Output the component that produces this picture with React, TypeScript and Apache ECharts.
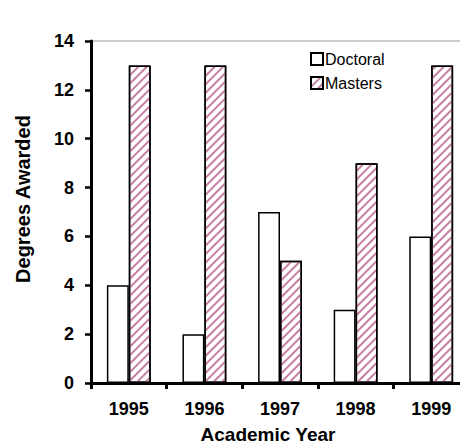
import React, { useEffect, useRef } from "react";
import * as echarts from "echarts";

const categories = ["1995", "1996", "1997", "1998", "1999"];
const doctoral = [4, 2, 7, 3, 6];
const masters = [13, 13, 5, 9, 13];
const yTicks = { min: 0, max: 14, interval: 2 };
const seriesNames = ["Doctoral", "Masters"];

const FONT = "Arial, 'Liberation Sans', sans-serif";

export default function App() {
  const ref = useRef<HTMLDivElement>(null);
  useEffect(() => {
    if (!ref.current) return;
    const chart = echarts.init(ref.current, null, { renderer: "svg" });
    chart.setOption({
      animation: false,
      backgroundColor: "#fff",
      textStyle: { fontFamily: FONT },
      grid: {
        left: 91,
        top: 41,
        right: -9,
        bottom: 62,
        outerBoundsMode: "none",
        containLabel: false,
        show: true,
        borderColor: "#999",
        borderWidth: 1,
        backgroundColor: "transparent",
      },
      legend: {
        orient: "vertical",
        left: 305,
        top: 46,
        itemWidth: 12,
        itemHeight: 12,
        itemGap: 8,
        icon: "rect",
        data: seriesNames,
        textStyle: { fontFamily: FONT, fontSize: 16, color: "#000", padding: [0, 0, 0, -3] },
      },
      xAxis: {
        type: "category",
        data: categories,
        name: "Academic Year",
        nameLocation: "middle",
        nameGap: 42,
        nameTextStyle: { fontFamily: FONT, fontSize: 19, fontWeight: "bold", color: "#000", padding: [0, 24, 0, 0] },
        axisLine: { lineStyle: { color: "#000", width: 3 } },
        axisTick: { show: true, length: 6, lineStyle: { color: "#000", width: 3 } },
        axisLabel: { fontFamily: FONT, fontSize: 18, fontWeight: "bold", color: "#000", margin: 17 },
      },
      yAxis: {
        type: "value",
        min: yTicks.min,
        max: yTicks.max,
        interval: yTicks.interval,
        name: "Degrees Awarded",
        nameLocation: "middle",
        nameGap: 58,
        nameRotate: 90,
        nameTextStyle: { fontFamily: FONT, fontSize: 20, fontWeight: "bold", color: "#000", padding: [0, 0, 0, 26] },
        axisLine: { show: true, lineStyle: { color: "#000", width: 3 } },
        axisTick: { show: true, length: 6, lineStyle: { color: "#000", width: 2.5 } },
        splitLine: { show: false },
        axisLabel: { fontFamily: FONT, fontSize: 18, fontWeight: "bold", color: "#000", margin: 17 },
      },
      series: [
        {
          name: seriesNames[0],
          type: "bar",
          data: doctoral,
          barGap: "0%",
          barCategoryGap: "42%",
          itemStyle: { color: "#fff", borderColor: "#000", borderWidth: 1.5 },
        },
        {
          name: seriesNames[1],
          type: "bar",
          data: masters,
          barGap: "0%",
          barCategoryGap: "42%",
          itemStyle: {
            color: "#fff",
            borderColor: "#000",
            borderWidth: 1.5,
            decal: {
              symbol: "rect",
              symbolSize: 1,
              color: "#c47fa3",
              dashArrayX: [1, 0],
              dashArrayY: [1.5, 4],
              rotation: -Math.PI / 4,
            },
          },
        },
      ],
    });
    return () => chart.dispose();
  }, []);
  return (
    <div
      ref={ref}
      style={{ position: "absolute", left: 0, top: 0, width: 460, height: 445 }}
    />
  );
}
